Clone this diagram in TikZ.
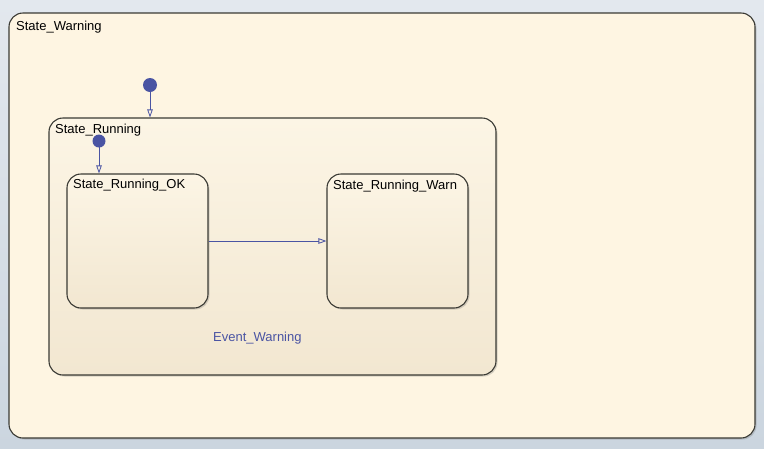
\documentclass[tikz,border=0pt]{standalone}
\usepackage{fontspec}
\setmainfont{Liberation Sans}
\usetikzlibrary{arrows.meta,shadows}
\definecolor{bgtop}{HTML}{E3E8EE}
\definecolor{bgbot}{HTML}{CBD5DF}
\definecolor{outerfill}{HTML}{FEF5E2}
\definecolor{intop}{HTML}{FCF5E5}
\definecolor{inbot}{HTML}{F2E7D1}
\definecolor{edge}{HTML}{3A3A34}
\definecolor{trans}{HTML}{4A54A3}
\tikzset{
  statebox/.style={draw=edge, line width=1.1pt, rounded corners=14pt, inner sep=0pt,
    drop shadow={shadow xshift=1.5pt, shadow yshift=-1.5pt, opacity=0.25, fill=black!60}},
  outerbox/.style={statebox, fill=outerfill},
  innerbox/.style={statebox, top color=intop, bottom color=inbot},
  statelabel/.style={anchor=base west, inner sep=0pt, font=\fontsize{13}{15}\selectfont, text=black},
  evlabel/.style={anchor=base west, inner sep=0pt, font=\fontsize{13}{15}\selectfont, text=trans},
  initdot/.style={circle, fill=trans, inner sep=0pt},
  transline/.style={draw=trans, line width=0.8pt, -{Triangle[open, length=8pt, width=5.5pt]}}
}
\begin{document}
\begin{tikzpicture}[x=1pt,y=-1pt]
\useasboundingbox (0,0) rectangle (764,448);
\shade[top color=bgtop, bottom color=bgbot] (0,0) rectangle (764,448);
\node[outerbox, minimum width=746pt, minimum height=425pt] (warning) at (382,225.5) {};
\node[statelabel] (warningLbl) at (16,30) {State\_Warning};
\node[innerbox, minimum width=447pt, minimum height=257pt] (running) at (272.5,246.5) {};
\node[statelabel] (runningLbl) at (55,133) {State\_Running};
\node[innerbox, minimum width=141pt, minimum height=134pt] (ok) at (137.5,241) {};
\node[statelabel] (okLbl) at (73,188.5) {State\_Running\_OK};
\node[innerbox, minimum width=141pt, minimum height=134pt] (warn) at (397.5,241) {};
\node[statelabel] (warnLbl) at (333,189) {State\_Running\_Warn};
\node[evlabel] (evLbl) at (213,341) {Event\_Warning};
\node[initdot, minimum size=14pt] (d1) at (150,85) {};
\node[initdot, minimum size=13pt] (d2) at (99,141) {};
\draw[transline] (d1.center) -- (d1 |- running.north);
\draw[transline] (d2.center) -- (d2 |- ok.north);
\draw[transline] (ok.east) -- (warn.west);
\end{tikzpicture}
\end{document}
